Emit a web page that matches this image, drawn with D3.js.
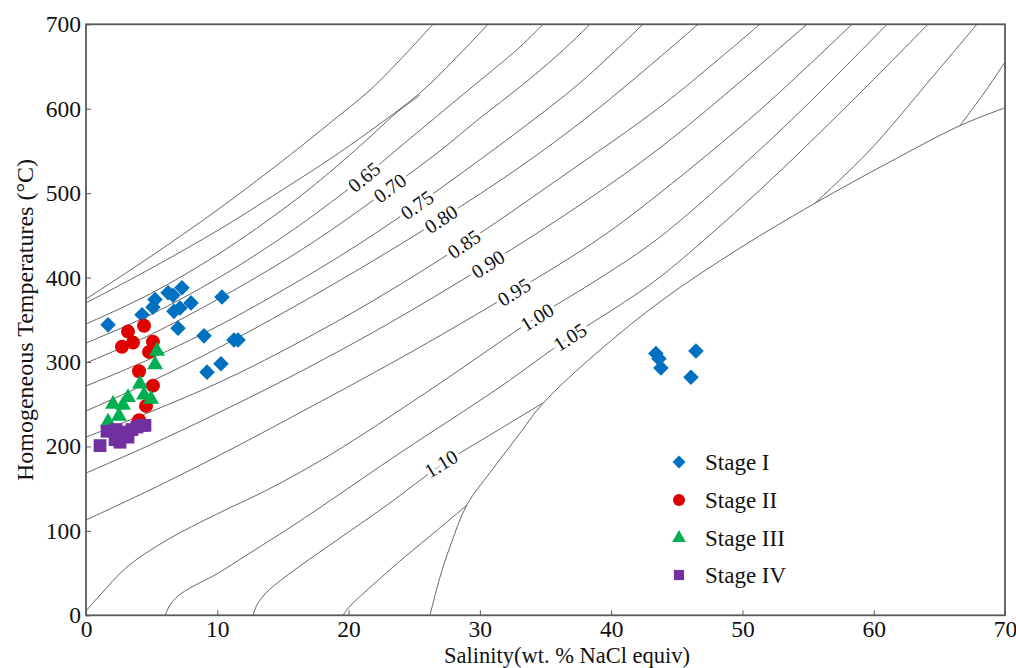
<!DOCTYPE html>
<html><head><meta charset="utf-8">
<script src="https://cdn.jsdelivr.net/npm/d3@7"></script>
<style>body{margin:0;background:#fff}</style>
</head><body><svg id="chart" width="1016" height="668"></svg>
<script>
// ---------- data ----------
const xTicks = [0,10,20,30,40,50,60,70];
const yTicks = [0,100,200,300,400,500,600,700];

const stage1Sal  = [1.68,4.27,5.10,5.26,6.25,6.63,7.31,8.00,6.70,7.16,7.01,10.36,8.99,11.27,11.58,9.22,10.28,43.41,43.64,43.79,46.46,46.08];
const stage1Temp = [344,356,365,374,382,379,388,370,360,364,340,377,331,326,326,288,298,310,304,293,313,282];
const stage2Sal  = [3.20,4.42,2.74,3.58,5.10,4.80,4.04,5.10,4.57,4.04];
const stage2Temp = [336,343,318,323,324,312,289,272,248,231];
const stage3Sal  = [5.41,5.26,4.11,4.42,4.95,3.20,2.82,2.06,2.51,1.68];
const stage3Temp = [313,297,274,261,256,258,249,250,236,229];
const stage4Sal  = [1.07,1.60,2.28,2.21,2.82,3.20,3.50,3.88,4.27,4.49,2.59,3.12];
const stage4Temp = [201,218,220,208,215,211,220,223,225,225,205,217];

// isochores (salinity, temperature)
const isoA   = [[0,374.6],[4.87,424.4],[10.21,482.4],[15.54,545.2],[18.58,583.1],[21.63,622.1],[23.91,657.7],[26.43,700]];
const isoB   = [[0,369.9],[4.87,410.2],[10.21,457.5],[15.54,509.7],[18.58,540.4],[21.63,573.6],[25.44,618.6],[28.10,658.9],[30.62,700]];
const isoC   = [[0,345.0],[4.87,380.6],[10.21,429.1],[15.54,487.1],[18.58,525.0],[21.63,566.5],[23.53,593.7],[25.44,616.2]];
const iso065 = [[0,322.5],[4.87,355.7],[10.21,400.7],[15.54,454.0],[18.58,488.3],[21.17,519.1],[23.91,554.7],[28.48,613.8],[33.05,673.1],[34.81,700]];
const iso070 = [[0,298.8],[4.87,332.0],[10.21,375.8],[15.54,424.4],[19.35,463.5],[23.15,506.1],[26.96,550.0],[30.01,589.0],[33.05,625.7],[36.10,666.0],[38.39,700]];
const iso075 = [[0,271.6],[4.87,303.6],[10.21,343.8],[15.54,390.0],[20.56,437.4],[25.21,486.0],[29.25,531.0],[33.05,574.8],[37.62,630.5],[42.42,700]];
const iso080 = [[0,242.0],[4.87,276.3],[10.21,317.8],[15.54,362.8],[21.33,414.9],[27.04,469.4],[33.05,531.0],[38.39,592.5],[43.72,661.2],[46.61,700]];
const iso085 = [[0,211.1],[4.87,240.8],[10.21,276.3],[15.54,317.8],[22.09,374.6],[28.79,439.8],[36.10,517.9],[43.72,602.0],[48.29,660.0],[51.33,700]];
const iso090 = [[0,168.5],[4.87,201.7],[10.21,240.8],[15.54,282.2],[22.85,343.8],[30.62,416.0],[37.62,486.0],[43.72,553.6],[49.81,631.6],[54.91,700]];
const iso095 = [[0,112.9],[4.87,148.4],[10.21,189.9],[15.54,233.7],[24.37,308.3],[32.60,382.9],[39.15,446.8],[43.72,500.2],[51.33,598.4],[58.34,700]];
const iso100 = [[0,5.1],[1.07,24.0],[3.12,57.2],[6.17,89.2],[9.98,120.0],[13.79,148.4],[18.58,189.9],[26.20,266.9],[34.35,353.3],[39.15,399.5],[43.72,448.1],[52.86,573.8],[61.01,700]];
const iso105 = [[6.02,0],[6.40,12.2],[7.01,22.9],[8.07,33.6],[9.82,47.7],[12.49,73.8],[16.30,111.7],[23.91,192.2],[31.53,270.4],[36.86,329.6],[40.67,367.5],[43.72,400.6],[51.33,503.7],[58.19,606.8],[64.13,700]];
const iso110 = [[12.72,0],[13.02,12.2],[13.56,24.0],[14.47,37.0],[16.30,58.4],[19.35,91.6],[23.15,133.0],[27.04,177.9],[31.15,217.1],[34.81,251.5]];
const iso115 = [[19.57,0],[20.11,11.0],[21.25,27.6],[23.91,64.3],[26.58,98.7],[29.02,130.6]];
const halite = [[26.20,0],[26.96,45],[27.72,81],[29.02,131],[30.77,169],[32.83,211],[34.81,251],[38.92,311],[43.95,374],[49.81,435],[55.52,488],[61.23,537],[66.57,580],[69.99,601]];
const upper1 = [[55.52,488],[59.71,551],[64.28,634],[67.86,700]];
const upper2 = [[66.57,580],[68.47,620],[69.99,655]];

const isoLabels  = ["0.65","0.70","0.75","0.80","0.85","0.90","0.95","1.00","1.05","1.10"];
const isoLabSal  = [21.17,23.15,25.21,27.04,28.79,30.62,32.60,34.35,36.86,27.04];
const isoLabTemp = [519.1,506.1,486.0,469.4,439.8,416.0,382.9,353.3,329.6,179.5];

const legendLabels = ["Stage I","Stage II","Stage III","Stage IV"];
const stageColors = ["#0070C0","#E00000","#00B050","#7030A0"];

// ---------- drawing ----------
const W = 1016, H = 668;
const L = 86, R = 1005, T = 24.3, B = 615.3;
const serif = "'Liberation Serif','Times New Roman',serif";
const svg = d3.select("#chart");
svg.append("rect").attr("width",W).attr("height",H).attr("fill","#fff");

const x = d3.scaleLinear().domain([0,70]).range([L,R]);
const y = d3.scaleLinear().domain([0,700]).range([B,T]);

svg.append("defs").append("clipPath").attr("id","clip")
  .append("rect").attr("x",L).attr("y",T).attr("width",R-L).attr("height",B-T);

const lineGen = d3.line().x(d=>x(d[0])).y(d=>y(d[1])).curve(d3.curveCatmullRom.alpha(0.5));
const lines = [isoA,isoB,isoC,iso065,iso070,iso075,iso080,iso085,iso090,iso095,iso100,iso105,iso110,iso115,halite,upper1,upper2];
const gl = svg.append("g").attr("clip-path","url(#clip)");
gl.selectAll("path").data(lines).join("path")
  .attr("d",lineGen).attr("fill","none").attr("stroke","#555").attr("stroke-width",0.9);

// contour labels, rotated along their line
const labelLines = [iso065,iso070,iso075,iso080,iso085,iso090,iso095,iso100,iso105,iso110];
function angleAt(line, s){
  let i = line.findIndex(p=>p[0]>s);
  if(i<1) i=1;
  const p0=line[i-1], p1=line[i];
  return Math.atan2(y(p1[1])-y(p0[1]), x(p1[0])-x(p0[0]))*180/Math.PI;
}
svg.append("g").selectAll("text").data(isoLabels).join("text")
  .attr("transform",(d,i)=>`translate(${x(isoLabSal[i])},${y(isoLabTemp[i])}) rotate(${angleAt(labelLines[i],isoLabSal[i])})`)
  .attr("text-anchor","middle").attr("dy","0.35em")
  .attr("font-family",serif).attr("font-size",20).attr("fill","#111")
  .attr("stroke","#fff").attr("stroke-width",7).attr("paint-order","stroke")
  .text(d=>d);

// axes
const xAxis = d3.axisBottom(x).tickValues(xTicks).tickSizeInner(-5).tickSizeOuter(0).tickPadding(5);
const yAxis = d3.axisLeft(y).tickValues(yTicks).tickSizeInner(-5).tickSizeOuter(0).tickPadding(5);
const gx = svg.append("g").attr("transform",`translate(0,${B})`).call(xAxis);
const gy = svg.append("g").attr("transform",`translate(${L},0)`).call(yAxis);
[gx,gy].forEach(g=>{
  g.select(".domain").remove();
  g.selectAll(".tick line").attr("stroke","#555").attr("stroke-width",1);
  g.selectAll(".tick text").attr("font-family",serif).attr("font-size",23.5).attr("fill","#111");
});

// frame
svg.append("rect").attr("x",L).attr("y",T).attr("width",R-L).attr("height",B-T)
  .attr("fill","none").attr("stroke","#5a5a5a").attr("stroke-width",1.8);

// titles
svg.append("text").attr("x",567).attr("y",662.5).attr("text-anchor","middle")
  .attr("font-family",serif).attr("font-size",22.5).attr("fill","#111")
  .text("Salinity(wt. % NaCl equiv)");
svg.append("text").attr("transform","translate(33,320) rotate(-90)").attr("text-anchor","middle")
  .attr("font-family",serif).attr("font-size",24).attr("fill","#111")
  .text("Homogeneous Temperatures (°C)");

// markers
function markerPath(type, s){
  if(type===0){ const r=s; return `M0,${-r}L${r},0L0,${r}L${-r},0Z`; }
  if(type===1){ const r=s; return `M${r},0A${r},${r} 0 1,1 ${-r},0A${r},${r} 0 1,1 ${r},0Z`; }
  if(type===2){ const a=s*2.1, h=a*0.866; return `M0,${-2*h/3}L${a/2},${h/3}L${-a/2},${h/3}Z`; }
  const h=s*0.85; return `M${-h},${-h}L${h},${-h}L${h},${h}L${-h},${h}Z`;
}
const stages = [
  [stage1Sal,stage1Temp,7.8],
  [stage2Sal,stage2Temp,7],
  [stage3Sal,stage3Temp,7.6],
  [stage4Sal,stage4Temp,7.5]
];
stages.forEach((st,k)=>{
  const pts = st[0].map((v,i)=>[v,st[1][i]]);
  svg.append("g").selectAll("path").data(pts).join("path")
    .attr("transform",d=>`translate(${x(d[0])},${y(d[1])})`)
    .attr("d",markerPath(k,st[2])).attr("fill",stageColors[k]);
});

// legend
const lg = svg.append("g");
const legY = [462,500,538,575];
const legSize = [6.5,6,6.5,6];
legendLabels.forEach((t,k)=>{
  lg.append("path").attr("transform",`translate(679,${legY[k]})`).attr("d",markerPath(k,legSize[k])).attr("fill",stageColors[k]);
  lg.append("text").attr("x",705).attr("y",legY[k]+8).attr("font-family",serif).attr("font-size",23).attr("fill","#111").text(t);
});
</script>
</body></html>
